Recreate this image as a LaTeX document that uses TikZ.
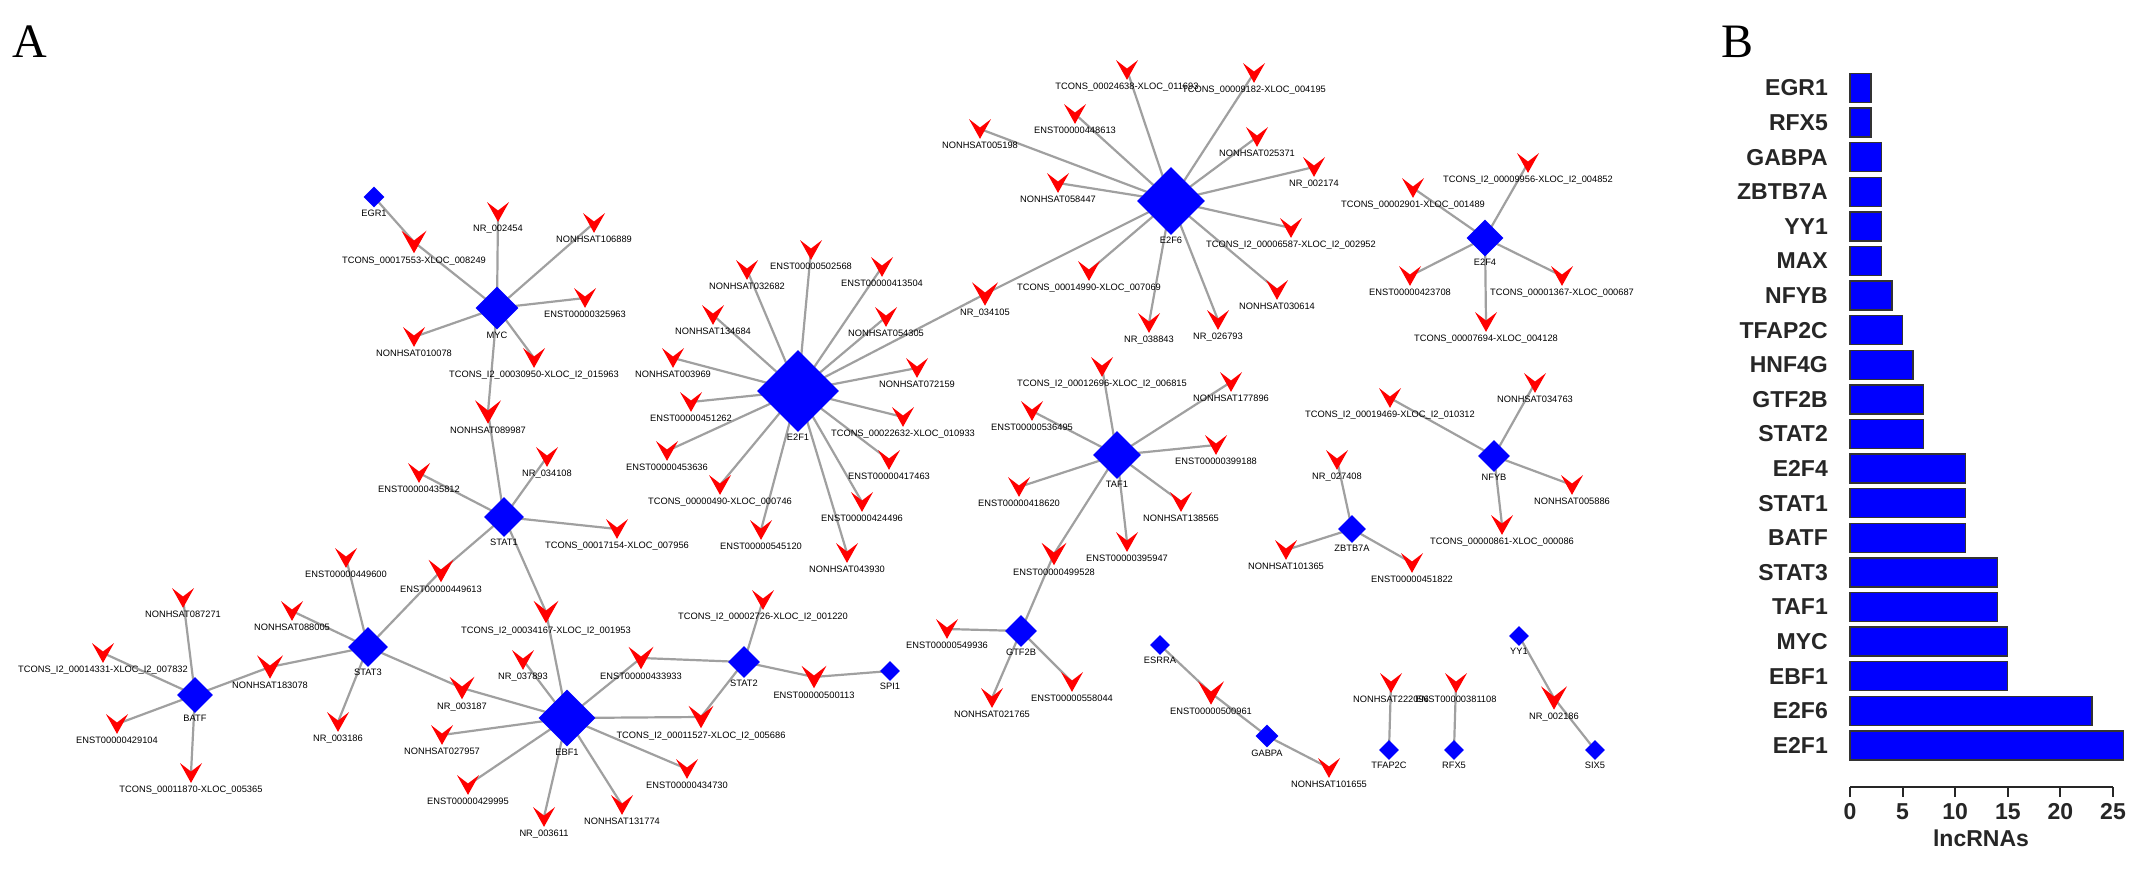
\documentclass[tikz,border=0pt]{standalone}
\usepackage{fontspec}
\setmainfont{Liberation Sans}
\newfontfamily\seriffont{Liberation Serif}
\usetikzlibrary{shapes.geometric,backgrounds}
\definecolor{tfblue}{RGB}{0,0,255}
\definecolor{lncred}{RGB}{255,0,0}
\definecolor{edgegray}{RGB}{160,160,160}
\tikzset{
  lbl/.style={font=\fontsize{9.3}{10}\selectfont, text=black, inner sep=2pt},
  tf/.style={diamond, shape aspect=1, fill=tfblue, draw=none, inner sep=0pt, minimum width=#1, minimum height=#1},
  lncv/.style={rectangle, draw=none, inner sep=0pt, minimum width=#1, minimum height=0.9*#1,
    path picture={\fill[lncred] (path picture bounding box.north west) -- (path picture bounding box.south)
      -- (path picture bounding box.north east) -- ([yshift=1.5pt]path picture bounding box.center) -- cycle;}},
  edge/.style={draw=edgegray, line width=2.2pt},
  bar/.style={fill=tfblue, draw=black!80, line width=1.3pt},
  barlbl/.style={font=\fontsize{23}{26}\selectfont\bfseries, text=black!85, inner sep=0pt},
  axisline/.style={draw=black!85, line width=2pt},
  panel/.style={font=\seriffont\fontsize{48}{50}\selectfont, inner sep=0pt}
}
\newcommand\TF[5]{\node[tf=#4, label={[lbl]below:#5}] (#1) at (#2,#3) {};}
\newcommand\LN[5][22]{\node[lncv=#1, label={[lbl,label distance=1pt]below:#5}] (#2) at (#3,#4) {};}
\begin{document}
\begin{tikzpicture}[x=1pt,y=-1pt]
\useasboundingbox (0,0) rectangle (2150,874);
\node[panel] (pA) at (30,42) {A};
\node[panel] (pB) at (1737,42) {B};
% ---------- transcription factors ----------
\TF{EGR1}{374}{197}{21}{EGR1}
\TF{MYC}{497}{308}{43}{MYC}
\TF{E2F1}{798}{391}{82}{E2F1}
\TF{E2F6}{1171}{201}{68}{E2F6}
\TF{E2F4}{1485}{238}{37}{E2F4}
\TF{STAT1}{504}{517}{40}{STAT1}
\TF{STAT3}{368}{647}{40}{STAT3}
\TF{BATF}{195}{695}{36}{BATF}
\TF{EBF1}{567}{718}{57}{EBF1}
\TF{STAT2}{744}{662}{32}{STAT2}
\TF{SPI1}{890}{671}{20}{SPI1}
\TF{TAF1}{1117}{455}{48}{TAF1}
\TF{GTF2B}{1021}{631}{32}{GTF2B}
\TF{ESRRA}{1160}{645}{20}{ESRRA}
\TF{GABPA}{1267}{736}{23}{GABPA}
\TF{NFYB}{1494}{456}{32}{NFYB}
\TF{ZBTB7A}{1352}{529}{28}{ZBTB7A}
\TF{TFAP2C}{1389}{750}{20}{TFAP2C}
\TF{RFX5}{1454}{750}{20}{RFX5}
\TF{YY1}{1519}{636}{20}{YY1}
\TF{SIX5}{1595}{750}{20}{SIX5}
% ---------- lncRNAs ----------
\LN[25]{a1}{414}{242}{TCONS\_00017553-XLOC\_008249}
\LN{a2}{498}{212}{NR\_002454}
\LN{a3}{594}{223}{NONHSAT106889}
\LN{a4}{585}{298}{ENST00000325963}
\LN{a5}{414}{337}{NONHSAT010078}
\LN{a6}{534}{358}{TCONS\_I2\_00030950-XLOC\_I2\_015963}
\LN[26]{a7}{488}{412}{NONHSAT089987}
\LN{b1}{811}{250}{ENST00000502568}
\LN{b2}{747}{270}{NONHSAT032682}
\LN{b3}{882}{267}{ENST00000413504}
\LN{b4}{713}{315}{NONHSAT134684}
\LN{b5}{886}{317}{NONHSAT054305}
\LN[26]{b6}{985}{294}{NR\_034105}
\LN{b7}{673}{358}{NONHSAT003969}
\LN{b8}{917}{368}{NONHSAT072159}
\LN{b9}{691}{402}{ENST00000451262}
\LN{b10}{903}{417}{TCONS\_00022632-XLOC\_010933}
\LN{b11}{667}{451}{ENST00000453636}
\LN{b12}{889}{460}{ENST00000417463}
\LN{b13}{720}{485}{TCONS\_00000490-XLOC\_000746}
\LN{b14}{862}{502}{ENST00000424496}
\LN{b15}{761}{530}{ENST00000545120}
\LN{b16}{847}{553}{NONHSAT043930}
\LN{c1}{1127}{70}{TCONS\_00024638-XLOC\_011693}
\LN{c2}{1254}{73}{TCONS\_00009182-XLOC\_004195}
\LN{c3}{1075}{114}{ENST00000448613}
\LN{c4}{980}{129}{NONHSAT005198}
\LN{c5}{1257}{137}{NONHSAT025371}
\LN{c6}{1314}{167}{NR\_002174}
\LN{c7}{1058}{183}{NONHSAT058447}
\LN{c8}{1291}{228}{TCONS\_I2\_00006587-XLOC\_I2\_002952}
\LN{c9}{1089}{271}{TCONS\_00014990-XLOC\_007069}
\LN{c10}{1277}{290}{NONHSAT030614}
\LN{c11}{1149}{323}{NR\_038843}
\LN{c12}{1218}{320}{NR\_026793}
\LN{d1}{1528}{163}{TCONS\_I2\_00009956-XLOC\_I2\_004852}
\LN{d2}{1413}{188}{TCONS\_00002901-XLOC\_001489}
\LN{d3}{1410}{276}{ENST00000423708}
\LN{d4}{1562}{276}{TCONS\_00001367-XLOC\_000687}
\LN{d5}{1486}{322}{TCONS\_00007694-XLOC\_004128}
\LN{e1}{183}{598}{NONHSAT087271}
\LN{e2}{103}{653}{TCONS\_I2\_00014331-XLOC\_I2\_007832}
\LN[26]{e3}{270}{667}{NONHSAT183078}
\LN{e4}{117}{724}{ENST00000429104}
\LN{e5}{191}{773}{TCONS\_00011870-XLOC\_005365}
\LN{f1}{346}{558}{ENST00000449600}
\LN{f2}{292}{611}{NONHSAT088005}
\LN{f3}{338}{722}{NR\_003186}
\LN[25]{f4}{441}{571}{ENST00000449613}
\LN[25]{f5}{462}{688}{NR\_003187}
\LN{g1}{547}{457}{NR\_034108}
\LN{g2}{419}{473}{ENST00000435812}
\LN{g3}{617}{529}{TCONS\_00017154-XLOC\_007956}
\LN[25]{g4}{546}{612}{TCONS\_I2\_00034167-XLOC\_I2\_001953}
\LN{h1}{523}{660}{NR\_037893}
\LN[25]{h2}{641}{658}{ENST00000433933}
\LN{h3}{442}{735}{NONHSAT027957}
\LN[25]{h4}{701}{717}{TCONS\_I2\_00011527-XLOC\_I2\_005686}
\LN{h5}{687}{769}{ENST00000434730}
\LN{h6}{468}{785}{ENST00000429995}
\LN{h7}{622}{805}{NONHSAT131774}
\LN{h8}{544}{817}{NR\_003611}
\LN{i1}{763}{600}{TCONS\_I2\_00002726-XLOC\_I2\_001220}
\LN[25]{i2}{814}{677}{ENST00000500113}
\LN{j1}{1102}{367}{TCONS\_I2\_00012696-XLOC\_I2\_006815}
\LN{j2}{1231}{382}{NONHSAT177896}
\LN{j3}{1032}{411}{ENST00000536495}
\LN{j4}{1216}{445}{ENST00000399188}
\LN{j5}{1019}{487}{ENST00000418620}
\LN{j6}{1181}{502}{NONHSAT138565}
\LN{j7}{1127}{542}{ENST00000395947}
\LN[25]{j8}{1054}{554}{ENST00000499528}
\LN{k1}{947}{629}{ENST00000549936}
\LN{k2}{992}{698}{NONHSAT021765}
\LN{k3}{1072}{682}{ENST00000558044}
\LN[26]{m1}{1211}{693}{ENST00000500961}
\LN{m2}{1329}{768}{NONHSAT101655}
\LN{n1}{1337}{460}{NR\_027408}
\LN{n2}{1286}{550}{NONHSAT101365}
\LN{n3}{1412}{563}{ENST00000451822}
\LN{p1}{1535}{383}{NONHSAT034763}
\LN{p2}{1390}{398}{TCONS\_I2\_00019469-XLOC\_I2\_010312}
\LN{p3}{1572}{485}{NONHSAT005886}
\LN{p4}{1502}{525}{TCONS\_00000861-XLOC\_000086}
\LN{q1}{1391}{683}{NONHSAT222096}
\LN{q2}{1456}{683}{ENST00000381108}
\LN[26]{r1}{1554}{698}{NR\_002186}
% ---------- edges ----------
\begin{pgfonlayer}{background}
\fill[white] (0,0) rectangle (2150,874);
\draw[edge] (EGR1.center) -- (a1.center) -- (MYC.center);
\foreach \t in {a2,a3,a4,a5,a6,a7} \draw[edge] (MYC.center) -- (\t.center);
\draw[edge] (a7.center) -- (STAT1.center);
\foreach \t in {b1,b2,b3,b4,b5,b6,b7,b8,b9,b10,b11,b12,b13,b14,b15,b16} \draw[edge] (E2F1.center) -- (\t.center);
\draw[edge] (b6.center) -- (E2F6.center);
\foreach \t in {c1,c2,c3,c4,c5,c6,c7,c8,c9,c10,c11,c12} \draw[edge] (E2F6.center) -- (\t.center);
\foreach \t in {d1,d2,d3,d4,d5} \draw[edge] (E2F4.center) -- (\t.center);
\foreach \t in {e1,e2,e3,e4,e5} \draw[edge] (BATF.center) -- (\t.center);
\draw[edge] (e3.center) -- (STAT3.center);
\foreach \t in {f1,f2,f3,f4,f5} \draw[edge] (STAT3.center) -- (\t.center);
\draw[edge] (f4.center) -- (STAT1.center);
\draw[edge] (f5.center) -- (EBF1.center);
\foreach \t in {g1,g2,g3,g4} \draw[edge] (STAT1.center) -- (\t.center);
\draw[edge] (g4.center) -- (EBF1.center);
\foreach \t in {h1,h2,h3,h4,h5,h6,h7,h8} \draw[edge] (EBF1.center) -- (\t.center);
\draw[edge] (h2.center) -- (STAT2.center);
\draw[edge] (h4.center) -- (STAT2.center);
\foreach \t in {i1,i2} \draw[edge] (STAT2.center) -- (\t.center);
\draw[edge] (i2.center) -- (SPI1.center);
\foreach \t in {j1,j2,j3,j4,j5,j6,j7,j8} \draw[edge] (TAF1.center) -- (\t.center);
\draw[edge] (j8.center) -- (GTF2B.center);
\foreach \t in {k1,k2,k3} \draw[edge] (GTF2B.center) -- (\t.center);
\draw[edge] (ESRRA.center) -- (m1.center) -- (GABPA.center) -- (m2.center);
\foreach \t in {n1,n2,n3} \draw[edge] (ZBTB7A.center) -- (\t.center);
\foreach \t in {p1,p2,p3,p4} \draw[edge] (NFYB.center) -- (\t.center);
\draw[edge] (TFAP2C.center) -- (q1.center);
\draw[edge] (RFX5.center) -- (q2.center);
\draw[edge] (YY1.center) -- (r1.center) -- (SIX5.center);
\end{pgfonlayer}
% ---------- bar chart ----------
\foreach \nm/\v [count=\i from 0] in {EGR1/2,RFX5/2,GABPA/3,ZBTB7A/3,YY1/3,MAX/3,NFYB/4,TFAP2C/5,HNF4G/6,GTF2B/7,STAT2/7,E2F4/11,STAT1/11,BATF/11,STAT3/14,TAF1/14,MYC/15,EBF1/15,E2F6/23,E2F1/26} {
  \pgfmathsetmacro\yc{88+34.6*\i}
  \draw[bar] (1850,\yc-14.5) rectangle (1850+10.52*\v,\yc+14.5);
  \node[barlbl, anchor=east] (bl\i) at (1828,\yc) {\nm};
}
\draw[axisline] (1850,787) -- (2113,787);
\foreach \t in {0,5,10,15,20,25} {
  \draw[axisline] (1850+10.52*\t,787) -- (1850+10.52*\t,797);
  \node[barlbl] (tk\t) at (1850+10.52*\t,812) {\t};
}
\node[barlbl] (xlab) at (1981,838) {lncRNAs};
\end{tikzpicture}
\end{document}
